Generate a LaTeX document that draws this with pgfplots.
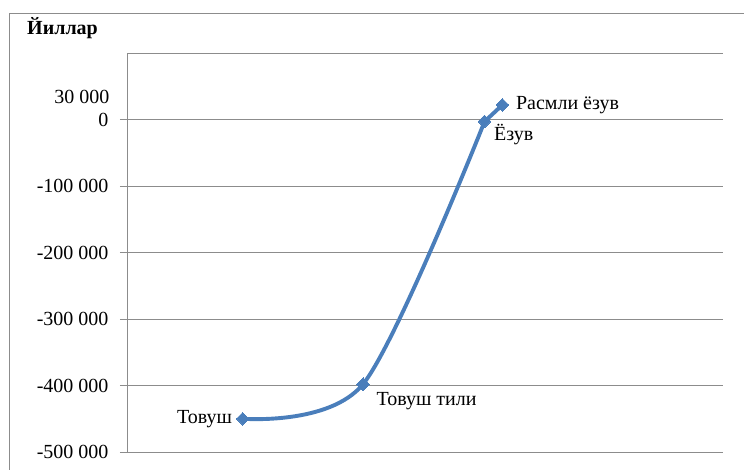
\documentclass[border=0pt]{standalone}
\usepackage{pgfplots}
\pgfplotsset{compat=1.18}
\usepackage{fontspec}
\setmainfont{Liberation Serif}
\definecolor{linec}{HTML}{4A7EBB}
\definecolor{gridc}{HTML}{8C8C8C}
\newcommand\lbl{\fontsize{20}{22}\selectfont}
\begin{document}
\begin{tikzpicture}[x=1pt,y=1pt]
\path[use as bounding box] (0,0) rectangle (744,470);
% outer chart frame (cut at the right and bottom)
\draw[gridc, line width=0.9pt] (9,0) -- (9,457) -- (744,457);
\node[font=\fontsize{20}{22}\selectfont\bfseries, anchor=base west, inner sep=0pt] at (27,435) {Йиллар};
\begin{axis}[
    at={(127pt,18pt)}, anchor=south west,
    scale only axis, width=596pt, height=399pt,
    xmin=0, xmax=5,
    ymin=-500000, ymax=100000,
    axis x line=none,
    axis y line*=left,
    axis line style={gridc, line width=0.9pt},
    scaled y ticks=false,
    ytick={-500000,-400000,-300000,-200000,-100000,0},
    yticklabels={-500 000,-400 000,-300 000,-200 000,-100 000,0},
    yticklabel style={font=\lbl, xshift=-8pt},
    tick align=outside,
    major tick length=7pt,
    tick style={gridc, line width=0.9pt},
    ymajorgrids=true,
    grid style={gridc, line width=0.9pt},
    extra y ticks={100000},
    extra y tick labels={},
    extra y tick style={major tick length=0pt, grid=major},
    clip=false,
]
% smoothed part of the line
\addplot[linec, line width=3.9pt, smooth, no marks]
  coordinates {(0.97,-450000)(1.98,-398000)(3.0,-3000)};
% last short step
\addplot[linec, line width=3.9pt, no marks]
  coordinates {(3.0,-3000)(3.15,22000)};
% markers
\addplot[only marks, mark=square*, mark size=4.5pt,
         mark options={linec, rotate=45, line width=0pt}]
  coordinates {(0.97,-450000)(1.98,-398000)(3.0,-3000)(3.15,22000)};
\node[font=\lbl, anchor=east] at (axis cs:0,30000) [xshift=-14pt, yshift=3pt] {30 000};
\node[font=\lbl, anchor=east] at (axis cs:0.97,-450000) [xshift=-7pt] {Товуш};
\node[font=\lbl, anchor=west] at (axis cs:1.98,-398000) [xshift=10pt, yshift=-17pt] {Товуш тили};
\node[font=\lbl, anchor=west] at (axis cs:3.0,-3000) [xshift=6pt, yshift=-13pt] {Ёзув};
\node[font=\lbl, anchor=west] at (axis cs:3.15,22000) [xshift=10pt] {Расмли ёзув};
\end{axis}
\end{tikzpicture}
\end{document}
